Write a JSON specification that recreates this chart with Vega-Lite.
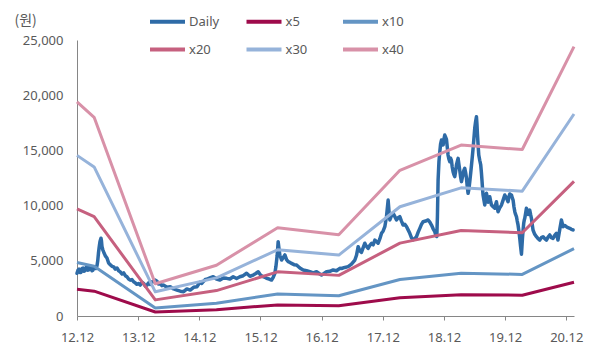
{
  "$schema": "https://vega.github.io/schema/vega-lite/v6.json",
  "width": 497,
  "height": 276,
  "autosize": {"type": "none"},
  "padding": {"left": 77, "top": 40, "right": 21, "bottom": 29},
  "background": "white",
  "config": {
    "font": "Noto Sans, Noto Sans CJK KR",
    "view": {"stroke": null},
    "axis": {"labelFontSize": 13, "labelColor": "#595959", "domainColor": "#868686", "tickColor": "#868686", "grid": false, "labelFont": "Noto Sans", "titleFont": "Noto Sans CJK KR"},
    "legend": {"title": null, "orient": "none", "legendX": 71, "legendY": -38, "direction": "horizontal", "columns": 3, "symbolType": "stroke", "symbolSize": 1225, "symbolStrokeWidth": 4, "labelFontSize": 13, "labelColor": "#595959", "labelFont": "Noto Sans", "columnPadding": 18.5, "rowPadding": -3, "gridAlign": "all", "labelOffset": 2}
  },
  "datasets": {
    "daily": [
      {"t":2012.917,"v":3870},{"t":2012.933,"v":4150},{"t":2012.950,"v":4250},{"t":2012.966,"v":3950},{"t":2012.982,"v":3950},{"t":2012.999,"v":4300},{"t":2013.015,"v":4350},{"t":2013.031,"v":4050},{"t":2013.048,"v":4100},{"t":2013.064,"v":4400},{"t":2013.080,"v":4450},{"t":2013.097,"v":4150},{"t":2013.113,"v":4200},{"t":2013.130,"v":4450},{"t":2013.146,"v":4400},{"t":2013.162,"v":4100},{"t":2013.178,"v":4150},{"t":2013.195,"v":4400},{"t":2013.211,"v":4450},{"t":2013.228,"v":4300},{"t":2013.244,"v":4550},{"t":2013.256,"v":5000},{"t":2013.268,"v":5700},{"t":2013.281,"v":6300},{"t":2013.293,"v":6750},{"t":2013.309,"v":7050},{"t":2013.317,"v":6800},{"t":2013.325,"v":6300},{"t":2013.339,"v":6000},{"t":2013.353,"v":5800},{"t":2013.380,"v":5450},{"t":2013.407,"v":5250},{"t":2013.434,"v":4800},{"t":2013.461,"v":4650},{"t":2013.489,"v":4500},{"t":2013.517,"v":4450},{"t":2013.544,"v":4250},{"t":2013.571,"v":4350},{"t":2013.598,"v":4100},{"t":2013.625,"v":4000},{"t":2013.652,"v":3800},{"t":2013.680,"v":3900},{"t":2013.707,"v":3650},{"t":2013.734,"v":3550},{"t":2013.761,"v":3350},{"t":2013.788,"v":3250},{"t":2013.815,"v":3300},{"t":2013.843,"v":3100},{"t":2013.870,"v":3000},{"t":2013.897,"v":2870},{"t":2013.924,"v":2950},{"t":2013.951,"v":2800},{"t":2013.979,"v":3050},{"t":2014.007,"v":2950},{"t":2014.034,"v":2700},{"t":2014.061,"v":2800},{"t":2014.088,"v":3000},{"t":2014.115,"v":2870},{"t":2014.143,"v":3100},{"t":2014.170,"v":3100},{"t":2014.197,"v":3250},{"t":2014.224,"v":3150},{"t":2014.251,"v":2900},{"t":2014.278,"v":2950},{"t":2014.306,"v":2750},{"t":2014.334,"v":2800},{"t":2014.388,"v":2600},{"t":2014.442,"v":2650},{"t":2014.497,"v":2450},{"t":2014.551,"v":2350},{"t":2014.606,"v":2250},{"t":2014.660,"v":2200},{"t":2014.714,"v":2450},{"t":2014.768,"v":2350},{"t":2014.823,"v":2600},{"t":2014.878,"v":2650},{"t":2014.902,"v":2850},{"t":2014.927,"v":3050},{"t":2014.957,"v":2950},{"t":2014.987,"v":3150},{"t":2015.012,"v":3300},{"t":2015.036,"v":3320},{"t":2015.090,"v":3450},{"t":2015.144,"v":3560},{"t":2015.199,"v":3350},{"t":2015.254,"v":3260},{"t":2015.308,"v":3450},{"t":2015.363,"v":3410},{"t":2015.417,"v":3350},{"t":2015.471,"v":3560},{"t":2015.526,"v":3400},{"t":2015.580,"v":3560},{"t":2015.635,"v":3650},{"t":2015.690,"v":3870},{"t":2015.744,"v":3600},{"t":2015.798,"v":3710},{"t":2015.840,"v":3850},{"t":2015.880,"v":4010},{"t":2015.920,"v":3700},{"t":2015.961,"v":3560},{"t":2015.990,"v":3500},{"t":2016.017,"v":3410},{"t":2016.058,"v":3350},{"t":2016.098,"v":3260},{"t":2016.125,"v":3500},{"t":2016.152,"v":3870},{"t":2016.170,"v":4500},{"t":2016.190,"v":5500},{"t":2016.206,"v":6730},{"t":2016.220,"v":6100},{"t":2016.234,"v":5500},{"t":2016.262,"v":5070},{"t":2016.290,"v":5300},{"t":2016.316,"v":5530},{"t":2016.343,"v":5100},{"t":2016.370,"v":4920},{"t":2016.398,"v":4850},{"t":2016.425,"v":4770},{"t":2016.466,"v":4650},{"t":2016.507,"v":4620},{"t":2016.561,"v":4350},{"t":2016.615,"v":4170},{"t":2016.670,"v":4100},{"t":2016.724,"v":4010},{"t":2016.779,"v":3900},{"t":2016.834,"v":4010},{"t":2016.875,"v":3850},{"t":2016.915,"v":3710},{"t":2016.956,"v":3850},{"t":2016.997,"v":4010},{"t":2017.051,"v":4050},{"t":2017.105,"v":4170},{"t":2017.160,"v":4100},{"t":2017.214,"v":4320},{"t":2017.242,"v":4300},{"t":2017.296,"v":4400},{"t":2017.350,"v":4470},{"t":2017.405,"v":4700},{"t":2017.460,"v":5070},{"t":2017.487,"v":5500},{"t":2017.514,"v":6280},{"t":2017.541,"v":5900},{"t":2017.569,"v":5770},{"t":2017.596,"v":6200},{"t":2017.623,"v":6590},{"t":2017.650,"v":6300},{"t":2017.677,"v":6130},{"t":2017.705,"v":6400},{"t":2017.733,"v":6590},{"t":2017.760,"v":6450},{"t":2017.787,"v":6880},{"t":2017.814,"v":6750},{"t":2017.841,"v":6590},{"t":2017.869,"v":7000},{"t":2017.896,"v":7490},{"t":2017.923,"v":7700},{"t":2017.950,"v":8090},{"t":2017.977,"v":8990},{"t":2018.004,"v":10500},{"t":2018.018,"v":9500},{"t":2018.032,"v":8700},{"t":2018.059,"v":9100},{"t":2018.086,"v":9300},{"t":2018.114,"v":9000},{"t":2018.141,"v":8700},{"t":2018.168,"v":8900},{"t":2018.195,"v":9000},{"t":2018.222,"v":8600},{"t":2018.249,"v":8240},{"t":2018.277,"v":8300},{"t":2018.304,"v":8100},{"t":2018.331,"v":7800},{"t":2018.358,"v":7490},{"t":2018.385,"v":7100},{"t":2018.412,"v":6900},{"t":2018.440,"v":7000},{"t":2018.468,"v":7190},{"t":2018.495,"v":7600},{"t":2018.522,"v":7940},{"t":2018.549,"v":8300},{"t":2018.576,"v":8540},{"t":2018.617,"v":8600},{"t":2018.658,"v":8700},{"t":2018.686,"v":8500},{"t":2018.713,"v":8240},{"t":2018.740,"v":7900},{"t":2018.767,"v":7640},{"t":2018.785,"v":7300},{"t":2018.800,"v":7200},{"t":2018.810,"v":9000},{"t":2018.821,"v":12320},{"t":2018.835,"v":14000},{"t":2018.849,"v":14880},{"t":2018.862,"v":15600},{"t":2018.876,"v":15940},{"t":2018.890,"v":15700},{"t":2018.903,"v":15500},{"t":2018.916,"v":16000},{"t":2018.930,"v":16390},{"t":2018.944,"v":16200},{"t":2018.958,"v":16000},{"t":2018.971,"v":15300},{"t":2018.984,"v":14580},{"t":2018.998,"v":14200},{"t":2019.012,"v":13980},{"t":2019.025,"v":14300},{"t":2019.039,"v":14100},{"t":2019.052,"v":13500},{"t":2019.066,"v":13070},{"t":2019.080,"v":12800},{"t":2019.093,"v":12620},{"t":2019.107,"v":13100},{"t":2019.121,"v":13680},{"t":2019.135,"v":14000},{"t":2019.148,"v":14280},{"t":2019.162,"v":13700},{"t":2019.175,"v":13200},{"t":2019.189,"v":12600},{"t":2019.203,"v":12170},{"t":2019.216,"v":12500},{"t":2019.229,"v":12900},{"t":2019.243,"v":13200},{"t":2019.257,"v":13380},{"t":2019.271,"v":13000},{"t":2019.285,"v":12500},{"t":2019.298,"v":11700},{"t":2019.311,"v":11110},{"t":2019.325,"v":11500},{"t":2019.339,"v":12170},{"t":2019.353,"v":12900},{"t":2019.367,"v":13680},{"t":2019.380,"v":14400},{"t":2019.393,"v":15190},{"t":2019.407,"v":16100},{"t":2019.420,"v":17000},{"t":2019.434,"v":17600},{"t":2019.448,"v":18050},{"t":2019.456,"v":17400},{"t":2019.464,"v":16500},{"t":2019.475,"v":15500},{"t":2019.486,"v":14580},{"t":2019.502,"v":14100},{"t":2019.518,"v":13680},{"t":2019.529,"v":13000},{"t":2019.540,"v":12170},{"t":2019.548,"v":11500},{"t":2019.556,"v":10960},{"t":2019.570,"v":10500},{"t":2019.584,"v":10050},{"t":2019.598,"v":10600},{"t":2019.612,"v":11110},{"t":2019.625,"v":10700},{"t":2019.638,"v":10300},{"t":2019.652,"v":10550},{"t":2019.666,"v":10800},{"t":2019.680,"v":10400},{"t":2019.694,"v":10050},{"t":2019.721,"v":9900},{"t":2019.748,"v":9760},{"t":2019.762,"v":10100},{"t":2019.775,"v":10350},{"t":2019.788,"v":9900},{"t":2019.801,"v":9450},{"t":2019.829,"v":9800},{"t":2019.857,"v":10050},{"t":2019.884,"v":10500},{"t":2019.911,"v":10960},{"t":2019.938,"v":10700},{"t":2019.965,"v":10350},{"t":2019.979,"v":10800},{"t":2019.993,"v":11050},{"t":2020.007,"v":11000},{"t":2020.021,"v":10960},{"t":2020.034,"v":10700},{"t":2020.047,"v":10500},{"t":2020.061,"v":9900},{"t":2020.075,"v":9450},{"t":2020.088,"v":9200},{"t":2020.102,"v":9000},{"t":2020.115,"v":8600},{"t":2020.128,"v":8250},{"t":2020.142,"v":7700},{"t":2020.156,"v":7040},{"t":2020.170,"v":6300},{"t":2020.184,"v":5600},{"t":2020.192,"v":6300},{"t":2020.200,"v":7040},{"t":2020.211,"v":7800},{"t":2020.221,"v":8400},{"t":2020.230,"v":8700},{"t":2020.238,"v":8850},{"t":2020.252,"v":9300},{"t":2020.265,"v":9760},{"t":2020.279,"v":9500},{"t":2020.292,"v":9200},{"t":2020.305,"v":9400},{"t":2020.319,"v":9600},{"t":2020.333,"v":9200},{"t":2020.347,"v":8850},{"t":2020.360,"v":8300},{"t":2020.373,"v":7790},{"t":2020.401,"v":7400},{"t":2020.429,"v":7180},{"t":2020.456,"v":7000},{"t":2020.483,"v":6880},{"t":2020.510,"v":7100},{"t":2020.537,"v":7180},{"t":2020.565,"v":7000},{"t":2020.592,"v":6880},{"t":2020.619,"v":7150},{"t":2020.646,"v":7340},{"t":2020.673,"v":7100},{"t":2020.700,"v":7030},{"t":2020.728,"v":7300},{"t":2020.755,"v":7490},{"t":2020.768,"v":7200},{"t":2020.781,"v":6880},{"t":2020.809,"v":7800},{"t":2020.837,"v":8700},{"t":2020.850,"v":8400},{"t":2020.863,"v":8090},{"t":2020.891,"v":8200},{"t":2020.919,"v":8090},{"t":2020.946,"v":8000},{"t":2020.973,"v":7940},{"t":2021.000,"v":7850},{"t":2021.027,"v":7790}
    ],
    "mult": [
      {"s":"x5","t":2012.917,"v":2425},{"s":"x5","t":2013.197,"v":2250},{"s":"x5","t":2014.197,"v":365},{"s":"x5","t":2015.197,"v":575},{"s":"x5","t":2016.197,"v":1000},{"s":"x5","t":2017.197,"v":920},{"s":"x5","t":2018.197,"v":1650},{"s":"x5","t":2019.197,"v":1935},{"s":"x5","t":2020.197,"v":1885},{"s":"x5","t":2021.043,"v":3050},
      {"s":"x10","t":2012.917,"v":4850},{"s":"x10","t":2013.197,"v":4500},{"s":"x10","t":2014.197,"v":730},{"s":"x10","t":2015.197,"v":1150},{"s":"x10","t":2016.197,"v":2000},{"s":"x10","t":2017.197,"v":1840},{"s":"x10","t":2018.197,"v":3300},{"s":"x10","t":2019.197,"v":3870},{"s":"x10","t":2020.197,"v":3770},{"s":"x10","t":2021.043,"v":6100},
      {"s":"x20","t":2012.917,"v":9700},{"s":"x20","t":2013.197,"v":9000},{"s":"x20","t":2014.197,"v":1460},{"s":"x20","t":2015.197,"v":2300},{"s":"x20","t":2016.197,"v":4000},{"s":"x20","t":2017.197,"v":3680},{"s":"x20","t":2018.197,"v":6600},{"s":"x20","t":2019.197,"v":7740},{"s":"x20","t":2020.197,"v":7540},{"s":"x20","t":2021.043,"v":12200},
      {"s":"x30","t":2012.917,"v":14550},{"s":"x30","t":2013.197,"v":13500},{"s":"x30","t":2014.197,"v":2190},{"s":"x30","t":2015.197,"v":3450},{"s":"x30","t":2016.197,"v":6000},{"s":"x30","t":2017.197,"v":5520},{"s":"x30","t":2018.197,"v":9900},{"s":"x30","t":2019.197,"v":11610},{"s":"x30","t":2020.197,"v":11310},{"s":"x30","t":2021.043,"v":18300},
      {"s":"x40","t":2012.917,"v":19400},{"s":"x40","t":2013.197,"v":18000},{"s":"x40","t":2014.197,"v":2920},{"s":"x40","t":2015.197,"v":4600},{"s":"x40","t":2016.197,"v":8000},{"s":"x40","t":2017.197,"v":7360},{"s":"x40","t":2018.197,"v":13200},{"s":"x40","t":2019.197,"v":15480},{"s":"x40","t":2020.197,"v":15080},{"s":"x40","t":2021.043,"v":24400}
    ]
  },
  "encoding": {
    "x": {"field": "t", "type": "quantitative", "scale": {"domain": [2012.917, 2021.043], "nice": false, "zero": false},
      "axis": {"title": null, "values": [2012.917, 2013.917, 2014.917, 2015.917, 2016.917, 2017.917, 2018.917, 2019.917, 2020.917], "labelExpr": "format(floor(datum.value + 0.01) % 100, '02d') + '.12'", "labelFlush": false, "labelOverlap": false, "tickSize": 4, "labelPadding": 11}},
    "y": {"field": "v", "type": "quantitative", "scale": {"domain": [0, 25000], "nice": false},
      "axis": {"title": "(원)", "values": [0, 5000, 10000, 15000, 20000, 25000], "format": ",.0f", "ticks": false, "labelPadding": 14, "labelFlush": false, "titleAngle": 0, "titleX": -63, "titleY": -20, "titleAlign": "left", "titleBaseline": "middle", "titleFontWeight": "normal", "titleFontSize": 14, "titleColor": "#595959"}}
  },
  "layer": [
    {
      "data": {"name": "daily"},
      "mark": {"type": "line", "strokeWidth": 3.5, "strokeJoin": "round", "strokeCap": "round"},
      "encoding": {
        "color": {"datum": "Daily", "type": "nominal",
          "scale": {"domain": ["Daily", "x5", "x10", "x20", "x30", "x40"], "range": ["#2E6BA7", "#9E0B4B", "#6495C4", "#C6607F", "#96B3DA", "#D891A8"]},
          "legend": {"title": null}}
      }
    },
    {
      "data": {"name": "mult"},
      "mark": {"type": "line", "strokeWidth": 3, "strokeJoin": "round"},
      "encoding": {
        "color": {"field": "s", "type": "nominal",
          "scale": {"domain": ["Daily", "x5", "x10", "x20", "x30", "x40"], "range": ["#2E6BA7", "#9E0B4B", "#6495C4", "#C6607F", "#96B3DA", "#D891A8"]},
          "legend": {"title": null}}
      }
    }
  ]
}
